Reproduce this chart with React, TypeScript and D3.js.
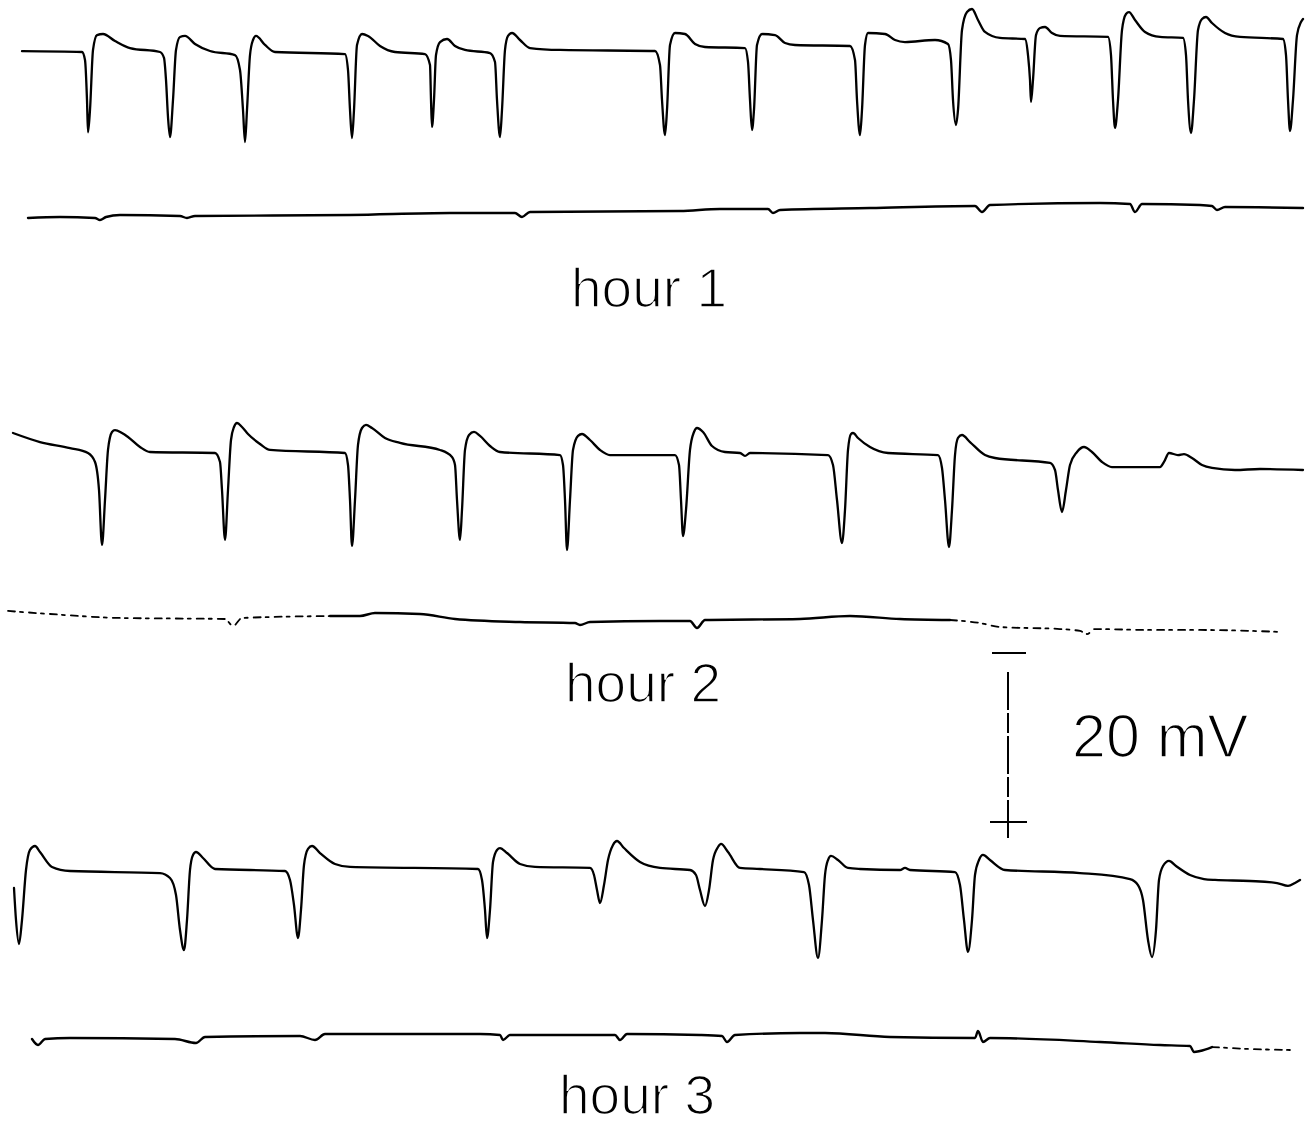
import React, { useEffect, useRef } from "react";
import * as d3 from "d3";

// Each trace: [time (s), potential (mV) relative to the trace's resting level]
const hour1TraceA: [number, number][] = [
  [0.22, 0.1], [0.82, 0], [0.85, -0.95], [0.87, -5.7], [0.88, -9.5], [0.9, -6.86], [0.93, 0.24], [0.97, 2.0],
  [1.03, 2.13], [1.15, 1.3], [1.3, 0.47], [1.6, 0], [1.64, -0.7], [1.66, -3.3], [1.68, -7.7], [1.7, -10.06],
  [1.73, -5.68], [1.76, 0.24], [1.8, 1.78], [1.85, 1.9], [1.95, 0.95], [2.1, 0.12], [2.35, -0.36], [2.4, -2.13],
  [2.43, -6.86], [2.45, -10.65], [2.47, -6.86], [2.5, -0.36], [2.53, 1.42], [2.56, 1.9], [2.65, 0.83], [2.75, 0],
  [3.45, -0.24], [3.48, -2.13], [3.5, -6.86], [3.52, -10.18], [3.54, -6.86], [3.57, 0.83], [3.62, 2.13], [3.68, 1.9],
  [3.8, 0.71], [3.95, 0], [4.25, -0.24], [4.3, -1.54], [4.31, -5.68], [4.32, -8.88], [4.34, -5.68], [4.36, -0.36],
  [4.4, 1.18], [4.47, 1.54], [4.55, 0.71], [4.65, 0.24], [4.9, -0.12], [4.95, -1.18], [4.97, -5.68], [5.0, -10.06],
  [5.02, -6.86], [5.05, 0.24], [5.08, 1.9], [5.12, 2.25], [5.2, 1.42], [5.3, 0.47], [5.6, 0.24], [6.55, 0.12],
  [6.6, -1.54], [6.62, -5.68], [6.65, -9.82], [6.67, -6.86], [6.7, 0.83], [6.75, 2.25], [6.85, 2.13], [6.95, 0.95],
  [7.05, 0.59], [7.45, 0.47], [7.48, -1.18], [7.5, -5.68], [7.52, -9.23], [7.54, -6.86], [7.57, 0.83], [7.62, 2.13],
  [7.75, 2.0], [7.85, 1.07], [7.95, 0.83], [8.5, 0.71], [8.55, -0.95], [8.57, -5.68], [8.6, -9.82], [8.62, -6.86],
  [8.65, 0.83], [8.68, 2.25], [8.85, 2.13], [8.95, 1.42], [9.05, 1.18], [9.35, 1.42], [9.48, 0.95], [9.51, -0.95],
  [9.53, -5.68], [9.56, -8.64], [9.58, -6.86], [9.62, 2.6], [9.67, 4.73], [9.72, 5.09], [9.78, 3.79], [9.85, 2.37],
  [10.0, 1.66], [10.25, 1.54], [10.28, -0.36], [10.3, -3.31], [10.31, -5.92], [10.33, -3.31], [10.36, 2.0], [10.4, 2.84],
  [10.45, 2.96], [10.52, 2.25], [10.6, 1.9], [11.08, 1.78], [11.11, -0.36], [11.13, -5.68], [11.15, -8.99], [11.18, -5.68],
  [11.22, 2.6], [11.26, 4.5], [11.29, 4.73], [11.35, 3.79], [11.45, 2.37], [11.6, 1.78], [11.83, 1.66], [11.86, -0.36],
  [11.88, -5.68], [11.91, -9.59], [11.94, -5.68], [11.98, 2.6], [12.02, 3.91], [12.06, 4.14], [12.12, 3.43], [12.25, 2.25],
  [12.4, 1.78], [12.83, 1.54], [12.86, -0.36], [12.88, -5.68], [12.9, -9.35], [12.93, -5.68], [12.97, 2.0], [13.01, 3.55],
  [13.03, 3.91],
];

const hour1TraceB: [number, number][] = [
  [0.28, -0.71], [0.6, -0.59], [0.95, -0.71], [1.0, -0.95], [1.06, -0.59], [1.2, -0.36], [1.8, -0.47], [1.87, -0.71],
  [1.95, -0.47], [3.5, -0.36], [4.5, -0.12], [5.15, -0.12], [5.22, -0.59], [5.3, 0], [6.8, 0.12], [7.2, 0.36],
  [7.68, 0.36], [7.73, -0.12], [7.8, 0.24], [8.7, 0.47], [9.75, 0.71], [9.82, 0], [9.9, 0.83], [11.0, 1.07],
  [11.3, 0.95], [11.35, 0], [11.42, 0.95], [12.0, 0.83], [12.12, 0.71], [12.17, 0.24], [12.25, 0.59], [13.03, 0.47],
];

const hour2TraceA: [number, number][] = [
  [0.13, 2.25], [0.4, 1.18], [0.7, 0.47], [0.88, -0.12], [0.95, -1.18], [0.99, -4.5], [1.02, -11.0], [1.05, -5.68],
  [1.08, 0.24], [1.12, 2.37], [1.15, 2.6], [1.22, 2.25], [1.28, 1.78], [1.4, 0.59], [1.5, 0], [2.15, -0.12],
  [2.2, -1.18], [2.22, -4.5], [2.25, -10.4], [2.28, -4.5], [2.31, 1.42], [2.34, 2.96], [2.37, 3.43], [2.42, 2.96],
  [2.48, 2.13], [2.6, 0.95], [2.7, 0.24], [3.45, -0.12], [3.48, -1.54], [3.5, -5.68], [3.52, -11.12], [3.55, -5.68],
  [3.58, 0.83], [3.62, 2.84], [3.66, 3.2], [3.72, 2.84], [3.85, 1.66], [4.0, 1.07], [4.4, 0.24], [4.52, -0.59],
  [4.55, -1.54], [4.57, -5.68], [4.6, -10.4], [4.62, -6.86], [4.65, 0.24], [4.69, 2.01], [4.74, 2.37], [4.8, 1.9],
  [4.9, 0.71], [5.0, 0], [5.6, -0.36], [5.63, -1.54], [5.65, -5.68], [5.67, -11.6], [5.7, -5.68], [5.73, 0.24],
  [5.78, 1.9], [5.82, 2.13], [5.9, 1.42], [6.0, 0.24], [6.1, -0.36], [6.75, -0.36], [6.79, -1.54], [6.81, -5.68],
  [6.83, -9.94], [6.86, -6.86], [6.9, 0.24], [6.94, 2.37], [6.97, 2.84], [7.03, 2.37], [7.12, 0.71], [7.25, 0],
  [7.4, -0.12], [7.45, -0.47], [7.5, -0.12], [8.28, -0.36], [8.33, -1.54], [8.37, -5.68], [8.42, -10.77], [8.45, -6.86],
  [8.48, 0.24], [8.51, 2.13], [8.53, 2.25], [8.58, 1.66], [8.7, 0.59], [8.88, -0.12], [9.38, -0.36], [9.42, -1.89],
  [9.45, -5.68], [9.49, -11.24], [9.52, -6.86], [9.55, -0.36], [9.58, 1.66], [9.62, 2.01], [9.7, 1.18], [9.85, -0.36],
  [9.95, -0.71], [10.5, -1.3], [10.55, -2.13], [10.58, -4.5], [10.62, -7.1], [10.66, -4.5], [10.7, -1.54], [10.77, 0],
  [10.84, 0.59], [10.92, 0], [11.02, -1.18], [11.12, -1.78], [11.6, -1.78], [11.64, -1.18], [11.69, -0.12], [11.78, -0.36],
  [11.84, -0.24], [11.92, -0.71], [12.02, -1.54], [12.12, -1.89], [12.35, -2.13], [12.6, -2.01], [13.03, -2.13],
];

const hour2TraceB: [number, number][] = [
  [0.08, 1.07], [0.5, 0.71], [1.2, 0.24], [2.25, 0.12], [2.33, -0.71], [2.42, 0.24], [3.3, 0.47], [3.6, 0.47],
  [3.75, 0.83], [4.2, 0.71], [4.55, 0.12], [5.2, -0.24], [5.75, -0.36], [5.8, -0.59], [5.9, -0.24], [6.6, -0.12],
  [6.9, -0.12], [6.97, -0.95], [7.05, 0], [8.0, 0.12], [8.5, 0.47], [9.0, 0.12], [9.5, 0], [9.8, -0.36],
  [10.0, -0.83], [10.6, -1.07], [10.8, -1.3], [10.87, -1.66], [10.95, -1.07], [11.5, -1.18], [12.0, -1.18], [12.83, -1.42],
];

const hour3TraceA: [number, number][] = [
  [0.14, -2.13], [0.16, -5.92], [0.19, -8.76], [0.22, -5.92], [0.26, 0], [0.3, 2.37], [0.35, 2.84], [0.4, 2.13],
  [0.52, 0.36], [0.7, -0.12], [1.6, -0.36], [1.7, -0.95], [1.76, -2.96], [1.8, -7.1], [1.84, -9.47], [1.87, -5.92],
  [1.9, 0], [1.93, 1.78], [1.96, 2.13], [2.03, 1.42], [2.15, 0.12], [2.85, -0.12], [2.9, -1.18], [2.94, -4.14],
  [2.98, -8.05], [3.01, -4.73], [3.04, 0.59], [3.08, 2.49], [3.12, 2.84], [3.2, 2.01], [3.35, 0.71], [3.5, 0.36],
  [4.78, 0.12], [4.82, -1.18], [4.85, -4.73], [4.87, -8.05], [4.9, -4.73], [4.93, 0.95], [4.97, 2.37], [5.0, 2.6],
  [5.07, 2.01], [5.2, 0.71], [5.35, 0.36], [5.9, 0.24], [5.94, -0.59], [5.97, -2.37], [6.0, -3.91], [6.04, -1.78],
  [6.08, 1.18], [6.13, 2.96], [6.17, 3.43], [6.24, 2.6], [6.4, 0.95], [6.6, 0.24], [6.9, 0], [6.96, -0.59],
  [7.0, -2.37], [7.05, -4.26], [7.09, -2.37], [7.13, 1.18], [7.18, 2.72], [7.21, 3.08], [7.28, 2.13], [7.4, 0.24],
  [7.6, 0.12], [8.04, -0.24], [8.09, -1.78], [8.13, -5.92], [8.18, -10.41], [8.22, -5.92], [8.25, -0.59], [8.28, 1.18],
  [8.31, 1.66], [8.38, 1.18], [8.48, 0.24], [8.6, 0.12], [9.0, 0], [9.05, 0.24], [9.1, 0], [9.55, -0.24],
  [9.6, -1.78], [9.64, -5.92], [9.68, -9.7], [9.72, -5.92], [9.75, -0.59], [9.79, 1.18], [9.83, 1.78], [9.9, 1.18],
  [10.05, 0], [10.8, -0.36], [11.3, -1.07], [11.38, -1.78], [11.43, -3.55], [11.48, -8.28], [11.52, -10.3], [11.56, -7.1],
  [11.59, -1.18], [11.63, 0.47], [11.69, 1.07], [11.76, 0.47], [11.9, -0.59], [12.04, -1.07], [12.15, -1.18], [12.5, -1.3],
  [12.77, -1.54], [12.88, -1.89], [12.95, -1.54], [13.0, -1.18],
];

const hour3TraceB: [number, number][] = [
  [0.32, -0.12], [0.38, -0.83], [0.45, -0.12], [0.7, 0], [1.75, -0.12], [1.96, -0.59], [2.05, 0.12], [3.0, 0.24],
  [3.15, -0.24], [3.25, 0.47], [4.8, 0.47], [5.0, 0.36], [5.03, -0.24], [5.1, 0.36], [6.15, 0.36], [6.2, -0.24],
  [6.27, 0.47], [7.0, 0.36], [7.22, 0.24], [7.27, -0.47], [7.35, 0.36], [8.0, 0.59], [8.25, 0.59], [8.9, 0.12],
  [9.75, 0], [9.78, 0.83], [9.83, -0.47], [9.9, 0], [11.0, -0.47], [11.6, -0.83], [11.9, -0.95], [11.94, -1.66],
  [12.0, -1.54], [12.12, -1.07], [12.5, -1.3], [12.9, -1.42],
];

// time windows (s) where the lower baseline trace is faint and broken
const hour2FaintWindows: [number, number][] = [[0, 3.3], [9.8, 13.2]];
const hour3FaintWindows: [number, number][] = [[12.2, 13.2]];

const hourLabels = ["hour 1", "hour 2", "hour 3"];
const scaleBarMV = 20;
const scaleBarUnit = "mV";

const W = 1315;
const H = 1126;
const PX_PER_MV = 8.45;
const FONT = "'Liberation Sans', Arial, sans-serif";

export default function App() {
  const ref = useRef<SVGSVGElement | null>(null);

  useEffect(() => {
    const svg = d3.select(ref.current);
    svg.selectAll("*").remove();

    const x = d3.scaleLinear().domain([0, 13.15]).range([0, W]);
    // vertical scale for a trace whose resting level sits at pixel row `base`
    const yAt = (base: number) =>
      d3.scaleLinear().domain([0, scaleBarMV]).range([base, base - scaleBarMV * PX_PER_MV]);

    const rows = [
      { a: hour1TraceA, b: hour1TraceB, faint: [] as [number, number][], baseA: 52, baseB: 212, label: hourLabels[0], lx: 649, ly: 307 },
      { a: hour2TraceA, b: hour2TraceB, faint: hour2FaintWindows, baseA: 452, baseB: 620, label: hourLabels[1], lx: 643, ly: 702 },
      { a: hour3TraceA, b: hour3TraceB, faint: hour3FaintWindows, baseA: 870, baseB: 1038, label: hourLabels[2], lx: 637, ly: 1114 },
    ];

    const drawTrace = (data: [number, number][], base: number, width: number, dash?: string) => {
      const y = yAt(base);
      const line = d3
        .line<[number, number]>()
        .x((d) => x(d[0]))
        .y((d) => y(d[1]))
        .curve(d3.curveMonotoneX);
      svg
        .append("path")
        .attr("d", line(data) as string)
        .attr("fill", "none")
        .attr("stroke", "#000")
        .attr("stroke-width", width)
        .attr("stroke-dasharray", dash ?? null)
        .attr("stroke-linejoin", "round")
        .attr("stroke-linecap", "round");
    };

    rows.forEach((r) => {
      drawTrace(r.a, r.baseA, 2.3);

      // lower trace: solid where clear, broken inside faint windows
      const inFaint = (t: number) => r.faint.some(([s, e]) => t >= s && t <= e);
      const segments: { pts: [number, number][]; faint: boolean }[] = [];
      r.b.forEach((p, i) => {
        const f = inFaint(p[0]);
        const last = segments[segments.length - 1];
        if (!last || last.faint !== f) {
          const seg = { pts: [] as [number, number][], faint: f };
          if (i > 0) seg.pts.push(r.b[i - 1]);
          segments.push(seg);
        }
        segments[segments.length - 1].pts.push(p);
      });
      segments.forEach((s) => drawTrace(s.pts, r.baseB, s.faint ? 1.8 : 2.4, s.faint ? "7 5 3 6" : undefined));

      svg
        .append("text")
        .attr("x", r.lx)
        .attr("y", r.ly)
        .attr("text-anchor", "middle")
        .attr("font-family", FONT)
        .attr("font-size", 55)
        .attr("fill", "#000")
        .attr("stroke", "#fff")
        .attr("stroke-width", 1.6)
        .text(r.label);
    });

    // 20 mV calibration bar ("−" above, "+" below)
    const sb = yAt(822);
    const bx = 1008;
    const g = svg.append("g").attr("stroke", "#000").attr("stroke-width", 2);
    g.append("line").attr("x1", bx - 16).attr("x2", bx + 18).attr("y1", sb(scaleBarMV)).attr("y2", sb(scaleBarMV));
    g.append("line")
      .attr("x1", bx).attr("x2", bx)
      .attr("y1", sb(scaleBarMV) + 19).attr("y2", sb(0) - 18)
      .attr("stroke-dasharray", "38 3 20 3");
    g.append("line").attr("x1", bx - 18).attr("x2", bx + 19).attr("y1", sb(0)).attr("y2", sb(0));
    g.append("line").attr("x1", bx).attr("x2", bx).attr("y1", sb(0) - 19).attr("y2", sb(0) + 16);

    svg
      .append("text")
      .attr("x", 1072)
      .attr("y", 757)
      .attr("font-family", FONT)
      .attr("font-size", 61)
      .attr("fill", "#000")
      .attr("stroke", "#fff")
      .attr("stroke-width", 1.6)
      .text(`${scaleBarMV} ${scaleBarUnit}`);
  }, []);

  return (
    <svg
      ref={ref}
      width={W}
      height={H}
      viewBox={`0 0 ${W} ${H}`}
      style={{ position: "absolute", left: 0, top: 0, background: "#fff" }}
    />
  );
}
